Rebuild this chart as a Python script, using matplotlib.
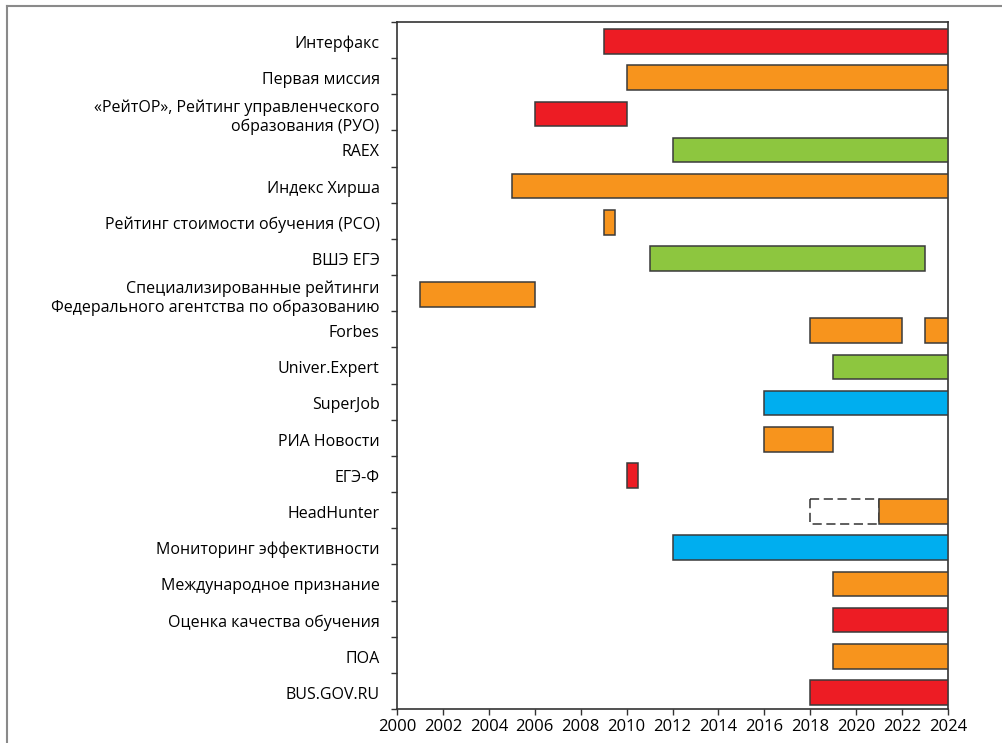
import matplotlib
matplotlib.use("Agg")
import matplotlib.pyplot as plt
from matplotlib.lines import Line2D
import numpy as np

plt.rcParams['font.family'] = ['Open Sans', 'DejaVu Sans']

labels = [
    "Интерфакс",
    "Первая миссия",
    "«РейтОР», Рейтинг управленческого\nобразования (РУО)",
    "RAEX",
    "Индекс Хирша",
    "Рейтинг стоимости обучения (РСО)",
    "ВШЭ ЕГЭ",
    "Специализированные рейтинги\nФедерального агентства по образованию",
    "Forbes",
    "Univer.Expert",
    "SuperJob",
    "РИА Новости",
    "ЕГЭ-Ф",
    "HeadHunter",
    "Мониторинг эффективности",
    "Международное признание",
    "Оценка качества обучения",
    "ПОА",
    "BUS.GOV.RU",
]

# (row, start, end, colour key)
segments = [
    (0, 2009, 2024, "red"),
    (1, 2010, 2024, "orange"),
    (2, 2006, 2010, "red"),
    (3, 2012, 2024, "green"),
    (4, 2005, 2024, "orange"),
    (5, 2009, 2009.5, "orange"),
    (6, 2011, 2023, "green"),
    (7, 2001, 2006, "orange"),
    (8, 2018, 2022, "orange"),
    (8, 2023, 2024, "orange"),
    (9, 2019, 2024, "green"),
    (10, 2016, 2024, "blue"),
    (11, 2016, 2019, "orange"),
    (12, 2010, 2010.5, "red"),
    (13, 2018, 2021, "dashed"),
    (13, 2021, 2024, "orange"),
    (14, 2012, 2024, "blue"),
    (15, 2019, 2024, "orange"),
    (16, 2019, 2024, "red"),
    (17, 2019, 2024, "orange"),
    (18, 2018, 2024, "red"),
]

colors = {
    "red": "#ED1C24",
    "orange": "#F7941D",
    "green": "#8DC63F",
    "blue": "#00AEEF",
}

years = list(range(2000, 2025, 2))

fig = plt.figure(figsize=(10.02, 7.43), dpi=100)
ax = fig.add_axes([397 / 1002, 34 / 743, 551 / 1002, 687 / 743])

n = len(labels)
for row, start, end, key in segments:
    y = row + 0.04
    if key == "dashed":
        ax.barh(y, end - start, left=start, height=0.68, facecolor="white",
                edgecolor="#333333", linestyle=(0, (6, 3)), linewidth=1.1, zorder=3)
    else:
        ax.barh(y, end - start, left=start, height=0.68, color=colors[key],
                edgecolor="#3a3a3a", linewidth=1.1, zorder=3)

ax.set_xlim(2000, 2024)
ax.set_ylim(n - 0.5, -0.5)

ax.set_xticks(years)
ax.set_xticklabels([str(y) for y in years], fontsize=12)

ax.set_yticks(np.arange(-0.5, n, 1.0))
ax.set_yticklabels([])
ax.set_yticks(np.arange(n) + 0.05, minor=True)
ax.set_yticklabels(labels, minor=True, fontsize=11.5, ha="right", multialignment="right")

ax.tick_params(axis="y", which="major", length=4, width=1, color="#333333", direction="out")
ax.tick_params(axis="y", which="minor", length=0, pad=12.5)
ax.tick_params(axis="x", length=4, width=1, color="#333333", direction="out", pad=3)

for s in ax.spines.values():
    s.set_color("#333333")
    s.set_linewidth(1.2)

# outer frame fragments
fig.add_artist(Line2D([7 / 1002, 1.0], [1 - 6 / 743, 1 - 6 / 743], color="#8a8a8a", lw=1.5))
fig.add_artist(Line2D([7 / 1002, 7 / 1002], [0, 1 - 6 / 743], color="#8a8a8a", lw=1.5))

fig.savefig("out.png", dpi=100)
